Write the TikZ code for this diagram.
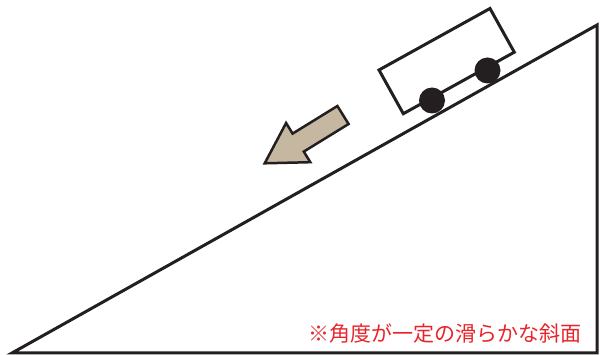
\documentclass[tikz,border=0pt]{standalone}
\usepackage{fontspec}
\newfontfamily\jpfont{Noto Sans CJK JP}
\usetikzlibrary{positioning}
\definecolor{inkblack}{RGB}{35,31,32}
\definecolor{arrowtan}{RGB}{197,183,160}
\definecolor{notered}{RGB}{232,36,43}

\begin{document}
\begin{tikzpicture}[x=1pt, y=-1pt,
    slope/.style={draw=inkblack, line width=3pt},
    cart/.style={draw=inkblack, line width=3pt, fill=white},
    wheel/.style={fill=inkblack},
    push/.style={draw=inkblack, line width=2.5pt, fill=arrowtan},
    notetext/.style={text=notered, font=\jpfont\fontsize{21}{25}\selectfont, inner sep=0pt}]

    \useasboundingbox (0,0) rectangle (600,355);

        % Slope
    \draw [slope] (12,353) -- (597,25) -- (597,353) -- cycle;

        % Cart
    \draw [cart] (379,70) -- (490,8.5) -- (514.3,52.2) -- (403.3,113.7) -- cycle;
    \fill [wheel] (432,100.5) circle (13pt);
    \fill [wheel] (487.5,70.5) circle (13pt);

        % Arrow
    \draw [push] (264.7,163.3) -- (286.1,123) -- (292.6,133.6) -- (337.4,106) -- (348.6,124) -- (303.8,151.6) -- (310.3,162.2) -- cycle;

        % Label
    \node (note) [notetext, anchor=east] at (582,334) {※角度が一定の滑らかな斜面};

\end{tikzpicture}
\end{document}
